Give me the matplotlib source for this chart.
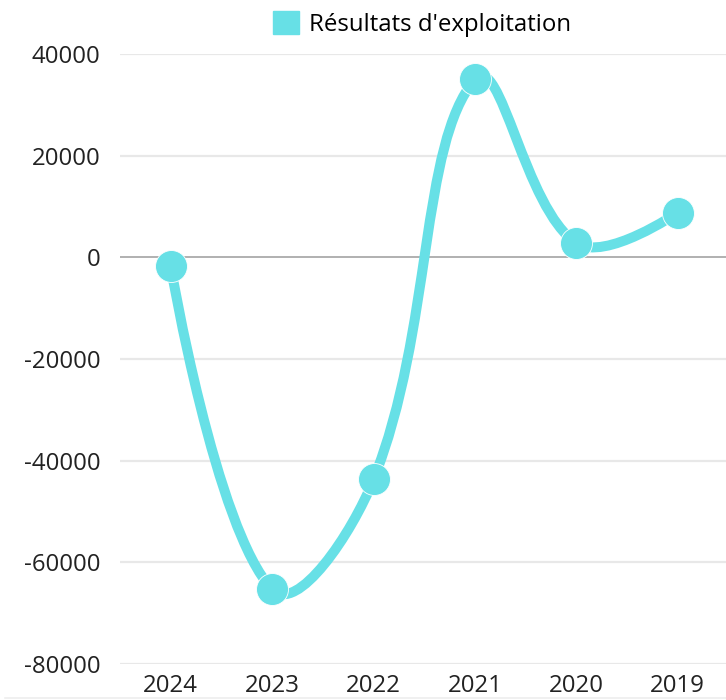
import numpy as np
import matplotlib.pyplot as plt
from matplotlib.lines import Line2D
from matplotlib.path import Path
from matplotlib.patches import PathPatch, Patch

plt.rcParams['font.family'] = ['Open Sans', 'DejaVu Sans']

years = ["2024", "2023", "2022", "2021", "2020", "2019"]
resultats = [-1800, -65300, -43700, 35000, 2800, 8800]
yticks = [-80000, -60000, -40000, -20000, 0, 20000, 40000]

color = "#67e0e6"

fig = plt.figure(figsize=(7.26, 7.0), dpi=100)
ax = fig.add_axes([120 / 726, 1 - 664 / 700, 608.5 / 726, 610 / 700])
ax.set_xlim(-0.5, len(years) - 0.5)
ax.set_ylim(-80000, 40000)

for s in ax.spines.values():
    s.set_visible(False)
ax.set_yticks(yticks)
ax.set_yticklabels([str(v) for v in yticks])
ax.set_xticks(range(len(years)))
ax.set_xticklabels(years)
ax.tick_params(axis='y', length=0, pad=14, labelsize=17.3, labelcolor="#222222")
ax.tick_params(axis='x', length=0, pad=7, labelsize=17.3, labelcolor="#222222")
for v in yticks:
    if v == 0:
        ax.axhline(v, color="#aaaaaa", lw=1.3, zorder=1)
    else:
        ax.axhline(v, color="#e8e8e8", lw=1.6, zorder=1)

# Chart.js-like cubic spline (tension 0.4), computed in pixel space
fig.canvas.draw()
pts = ax.transData.transform(np.column_stack([np.arange(len(years)), resultats]))
t = 0.4
n = len(pts)
cp_prev = pts.copy()
cp_next = pts.copy()
for i in range(1, n - 1):
    p0, p1, p2 = pts[i - 1], pts[i], pts[i + 1]
    d01 = np.hypot(*(p1 - p0))
    d12 = np.hypot(*(p2 - p1))
    s01 = d01 / (d01 + d12)
    s12 = d12 / (d01 + d12)
    cp_prev[i] = p1 - t * s01 * (p2 - p0)
    cp_next[i] = p1 + t * s12 * (p2 - p0)
verts = [pts[0]]
codes = [Path.MOVETO]
for i in range(n - 1):
    verts += [cp_next[i], cp_prev[i + 1], pts[i + 1]]
    codes += [Path.CURVE4] * 3
inv = ax.transData.inverted()
verts = inv.transform(np.array(verts))
ax.add_patch(PathPatch(Path(verts, codes), facecolor='none', edgecolor=color,
                       lw=7.2, capstyle='round', joinstyle='round', zorder=3, clip_on=False))
ax.plot(range(len(years)), resultats, 'o', color=color, ms=23, mec='white', mew=0.6,
        zorder=4, clip_on=False)

fig.legend(handles=[Patch(facecolor=color, edgecolor=color, label="Résultats d'exploitation")],
           loc='center', bbox_to_anchor=(0.581, 1 - 24 / 700), frameon=False,
           fontsize=17.3, handlelength=1.1, handleheight=1.1, handletextpad=0.4)

fig.add_artist(Line2D([5 / 726, 1], [1 - 698 / 700] * 2, color="#eeeeee", lw=1.2))

fig.savefig("out.png", dpi=100)
